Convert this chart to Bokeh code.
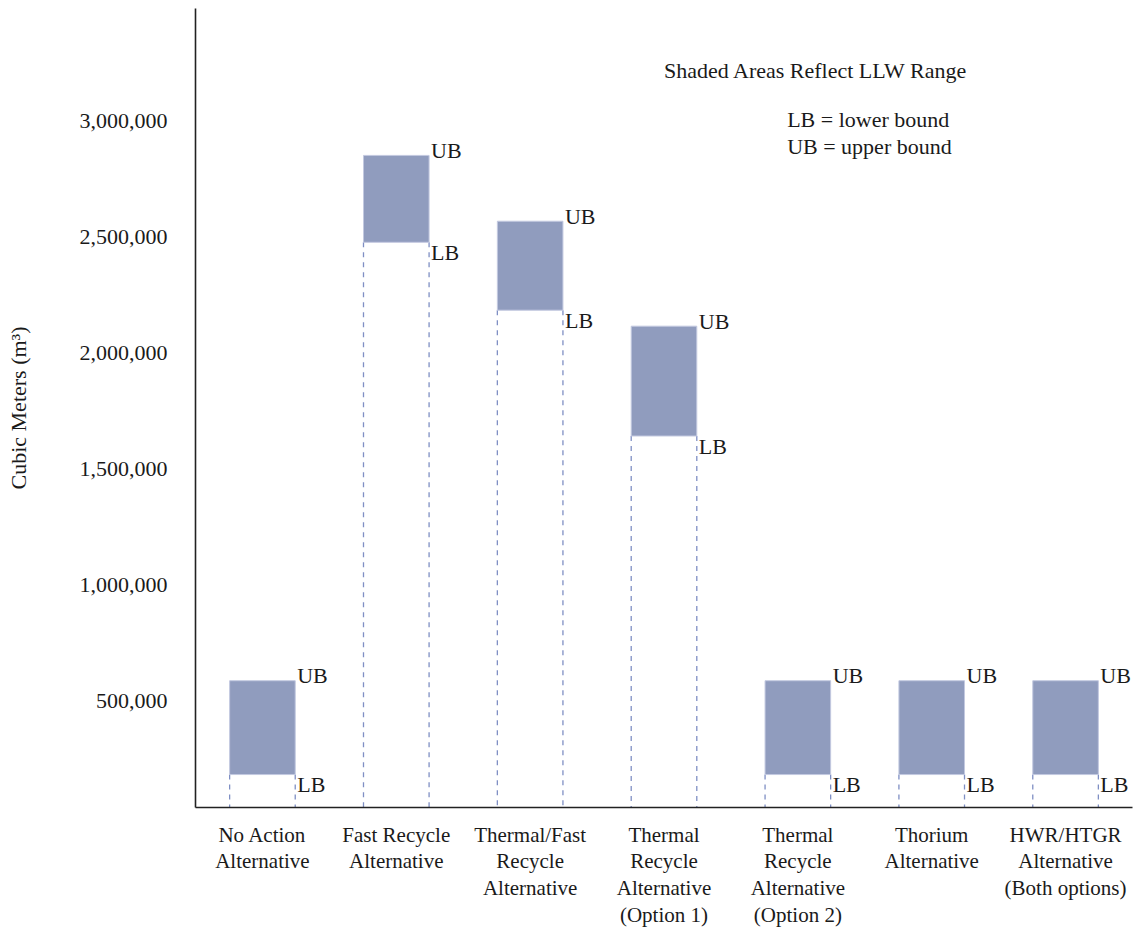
from bokeh.plotting import figure
from bokeh.models import (ColumnDataSource, FactorRange, Range1d, FixedTicker,
                          NumeralTickFormatter, Label)
from bokeh.embed import file_html
from bokeh.resources import INLINE
from bokeh.core.properties import value

# ---- data ----
categories = [
    "No Action\nAlternative",
    "Fast Recycle\nAlternative",
    "Thermal/Fast\nRecycle\nAlternative",
    "Thermal\nRecycle\nAlternative\n(Option 1)",
    "Thermal\nRecycle\nAlternative\n(Option 2)",
    "Thorium\nAlternative",
    "HWR/HTGR\nAlternative\n(Both options)",
]
lower_bound = [181000, 2478000, 2185000, 1642000, 181000, 181000, 181000]
upper_bound = [586000, 2853000, 2569000, 2116000, 586000, 586000, 586000]
y_ticks = [500000, 1000000, 1500000, 2000000, 2500000, 3000000]
y_min, y_max = 38800, 3487000

FONT = "Liberation Serif"
TXT = "#1a1a1a"
BAR_W = 0.49

src = ColumnDataSource(dict(
    cat=categories,
    lb=lower_bound,
    ub=upper_bound,
    left=[(c, -BAR_W / 2) for c in categories],
    right=[(c, BAR_W / 2) for c in categories],
    base=[y_min] * len(categories),
    ub_lbl=["UB"] * len(categories),
    lb_lbl=["LB"] * len(categories),
))

p = figure(x_range=FactorRange(*categories), y_range=Range1d(y_min, y_max),
           width=1135, height=930, output_backend="svg", toolbar_location=None,
           min_border_left=195, min_border_right=3, min_border_top=8,
           min_border_bottom=122)
p.outline_line_color = None
p.xgrid.grid_line_color = None
p.ygrid.grid_line_color = None
p.x_range.range_padding = 0

# dashed drop lines
for col in ("left", "right"):
    p.segment(x0=col, y0="lb", x1=col, y1="base", source=src,
              line_color="#7f8fc4", line_width=1.3, line_dash="5 5")

# shaded ranges
p.vbar(x="cat", bottom="lb", top="ub", width=BAR_W, source=src,
       fill_color="#909cbe", line_color="#c3c9e0", line_width=1)

# UB / LB labels
p.text(x="right", y="ub", text="ub_lbl", source=src, x_offset=2, y_offset=-5,
       text_baseline="middle", text_align="left", text_font=value(FONT),
       text_font_size="22px", text_color=TXT)
p.text(x="right", y="lb", text="lb_lbl", source=src, x_offset=2, y_offset=10,
       text_baseline="middle", text_align="left", text_font=value(FONT),
       text_font_size="22px", text_color=TXT)

# annotations
for txt, x, y in [("Shaded Areas Reflect LLW Range", 3.50, 3219800),
                  ("LB = lower bound", 4.42, 3008600),
                  ("UB = upper bound", 4.42, 2892200)]:
    p.add_layout(Label(x=x, y=y, text=txt, text_font=FONT, text_font_size="22px",
                       text_color=TXT, text_baseline="middle", text_align="left"))

# axes
yax = p.yaxis[0]
yax.ticker = FixedTicker(ticks=y_ticks)
yax.formatter = NumeralTickFormatter(format="0,0")
yax.major_tick_line_color = None
yax.minor_tick_line_color = None
yax.major_tick_out = 0
yax.major_tick_in = 0
yax.major_label_standoff = 28
yax.major_label_text_font = FONT
yax.major_label_text_font_size = "22px"
yax.major_label_text_color = TXT
yax.axis_line_color = "#222222"
yax.axis_line_width = 1.6
yax.axis_label = "Cubic Meters (m³)"
yax.axis_label_text_font = FONT
yax.axis_label_text_font_size = "22px"
yax.axis_label_text_font_style = "normal"
yax.axis_label_text_color = TXT
yax.axis_label_standoff = 46

xax = p.xaxis[0]
xax.major_tick_line_color = None
xax.minor_tick_line_color = None
xax.major_tick_out = 0
xax.major_tick_in = 0
xax.major_label_standoff = 15
xax.major_label_text_font = FONT
xax.major_label_text_font_size = "21px"
xax.major_label_text_color = TXT
xax.major_label_text_line_height = 1.12
xax.major_label_orientation = "horizontal"
xax.axis_line_color = "#222222"
xax.axis_line_width = 1.6

open("out.html", "w").write(file_html(p, INLINE))
